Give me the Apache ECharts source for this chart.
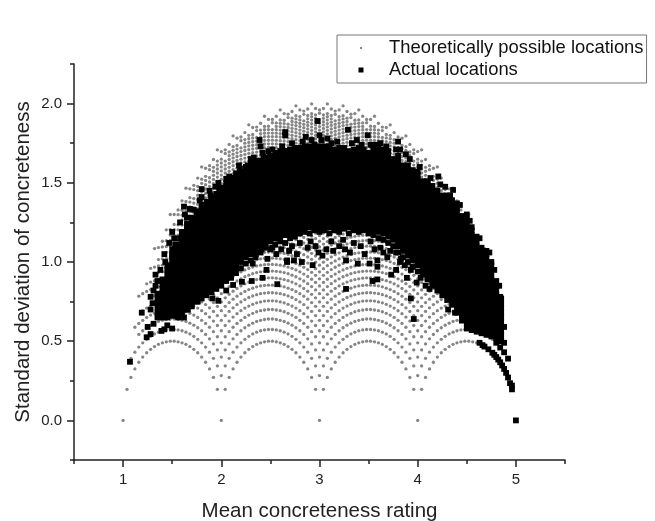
<!DOCTYPE html>
<html><head><meta charset="utf-8">
<style>html,body{margin:0;padding:0;background:#fff}#c{width:655px;height:521px}</style>
<script src="https://cdn.jsdelivr.net/npm/echarts@6/dist/echarts.min.js"></script>
</head><body><div id="c"></div>
<script>
const seriesNames = ['Theoretically possible locations', 'Actual locations'];
const xTickLabels = [1, 2, 3, 4, 5];
const xMinorTicks = [0.5, 1.5, 2.5, 3.5, 4.5, 5.5];
const yTickLabels = [0, 0.5, 1, 1.5, 2];
const yMinorTicks = [-0.25, 0.25, 0.75, 1.25, 1.75, 2.25];

// SD levels read along each family of arcs
const sdRows0 = [0,.283,.4,.49,.566,.632,.693,.748,.8,.849,.894,.938,.98,1.02,1.058,1.095,1.131,1.166,1.2,1.233,1.265,1.296,1.327,1.356,1.386,1.414,1.442,1.47,1.497,1.523,1.549,1.575,1.6,1.625,1.649,1.673,1.697,1.72,1.744,1.766,1.789,1.811,1.833,1.855,1.876,1.897,1.918,1.939,1.96];
const sdRows1 = [.196,.344,.445,.528,.599,.662,.72,.774,.824,.871,.916,.958,.999,1.038,1.076,1.113,1.148,1.183,1.216,1.248,1.28,1.311,1.341,1.371,1.399,1.428,1.455,1.483,1.509,1.536,1.562,1.587,1.612,1.637,1.661,1.685,1.708,1.732,1.755,1.777,1.8,1.822,1.843,1.865,1.886,1.907,1.928,1.949,1.969];
const sdRows2 = [.271,.392,.483,.56,.627,.688,.744,.796,.845,.891,.935,.977,1.017,1.055,1.093,1.129,1.163,1.197,1.23,1.262,1.294,1.324,1.354,1.383,1.412,1.44,1.468,1.495,1.521,1.547,1.573,1.598,1.623,1.647,1.671,1.695,1.719,1.742,1.765,1.787,1.809,1.831,1.853,1.874,1.896,1.917,1.937,1.958,1.978,1.998];
const sdRows3 = [.325,.431,.515,.588,.652,.711,.765,.816,.863,.909,.952,.993,1.032,1.07,1.107,1.143,1.177,1.211,1.243,1.275,1.306,1.336,1.366,1.395,1.423,1.451,1.478,1.505,1.532,1.557,1.583,1.608,1.633,1.657,1.681,1.705,1.728,1.751,1.774,1.796,1.818,1.84,1.862,1.883,1.904,1.925,1.946,1.966];
const sdRows4 = [.367,.463,.543,.612,.674,.731,.784,.833,.88,.924,.967,1.007,1.046,1.084,1.12,1.155,1.189,1.222,1.255,1.286,1.317,1.347,1.376,1.405,1.433,1.461,1.488,1.515,1.541,1.567,1.592,1.617,1.641,1.666,1.689,1.713,1.736,1.759,1.782,1.804,1.826,1.848,1.869,1.891,1.912,1.932,1.953];
const sdRows5 = [.4,.49,.566,.632,.693,.748,.8,.849,.894,.938,.98,1.02,1.058,1.095,1.131,1.166,1.2,1.233,1.265,1.296,1.327,1.356,1.386,1.414,1.442,1.47,1.497,1.523,1.549,1.575,1.6,1.625,1.649,1.673,1.697,1.72,1.744,1.766,1.789,1.811,1.833,1.855,1.876,1.897,1.918,1.939,1.96];
const sdRows6 = [.427,.512,.585,.65,.709,.763,.814,.862,.907,.95,.991,1.031,1.069,1.106,1.141,1.176,1.209,1.242,1.274,1.305,1.335,1.365,1.394,1.422,1.45,1.477,1.504,1.53,1.556,1.582,1.607,1.632,1.656,1.68,1.704,1.727,1.75,1.773,1.795,1.817,1.839,1.861,1.882,1.903,1.924,1.945,1.965,1.986];
const sdRows7 = [.449,.531,.601,.665,.722,.776,.826,.873,.917,.96,1.001,1.04,1.078,1.114,1.15,1.184,1.217,1.25,1.281,1.312,1.342,1.372,1.401,1.429,1.457,1.484,1.51,1.537,1.563,1.588,1.613,1.638,1.662,1.686,1.709,1.733,1.755,1.778,1.8,1.823,1.844,1.866,1.887,1.908,1.929,1.95];
const sdRows8 = [.466,.546,.614,.676,.733,.786,.835,.882,.926,.968,1.009,1.048,1.085,1.121,1.157,1.191,1.224,1.256,1.287,1.318,1.348,1.378,1.406,1.434,1.462,1.489,1.516,1.542,1.568,1.593,1.618,1.642,1.667,1.69,1.714,1.737,1.76,1.783,1.805,1.827,1.849,1.87,1.891,1.912,1.933];
const sdRows9 = [.48,.557,.625,.686,.742,.794,.843,.889,.933,.975,1.015,1.054,1.091,1.127,1.162,1.196,1.229,1.261,1.292,1.323,1.353,1.382,1.411,1.439,1.466,1.493,1.52,1.546,1.572,1.597,1.622,1.646,1.67,1.694,1.718,1.741,1.764,1.786,1.808,1.83,1.852,1.874,1.895,1.916,1.937];
const sdRows10 = [.49,.566,.632,.693,.748,.8,.849,.894,.938,.98,1.02,1.058,1.095,1.131,1.166,1.2,1.233,1.265,1.296,1.327,1.356,1.386,1.414,1.442,1.47,1.497,1.523,1.549,1.575,1.6,1.625,1.649,1.673,1.697,1.72,1.744,1.766,1.789,1.811,1.833,1.855,1.876,1.897,1.918,1.939,1.96];
const sdRows11 = [.496,.571,.637,.697,.753,.804,.852,.898,.941,.983,1.023,1.061,1.098,1.134,1.169,1.203,1.235,1.267,1.299,1.329,1.359,1.388,1.416,1.444,1.472,1.499,1.525,1.551,1.577,1.602,1.627,1.651,1.675,1.699,1.722,1.745,1.768,1.791,1.813,1.835,1.856,1.878,1.899,1.92];
const sdRows12 = [.5,.574,.64,.7,.755,.806,.854,.9,.943,.985,1.024,1.063,1.1,1.136,1.17,1.204,1.237,1.269,1.3,1.33,1.36,1.389,1.418,1.446,1.473,1.5,1.526,1.552,1.578,1.603,1.628,1.652,1.676,1.7,1.723,1.746,1.769,1.792,1.814,1.836,1.857,1.879,1.9];
const sdRowSets = [sdRows0,sdRows1,sdRows2,sdRows3,sdRows4,sdRows5,sdRows6,sdRows7,sdRows8,sdRows9,sdRows10,sdRows11,sdRows12];

// One entry per possible mean: which arc family, highest row present, rows missing below it
const possibleMeans = [1,1.04,1.08,1.12,1.16,1.2,1.24,1.28,1.32,1.36,1.4,1.44,1.48,1.52,1.56,1.6,1.64,1.68,1.72,1.76,1.8,1.84,1.88,1.92,1.96,2,2.04,2.08,2.12,2.16,2.2,2.24,2.28,2.32,2.36,2.4,2.44,2.48,2.52,2.56,2.6,2.64,2.68,2.72,2.76,2.8,2.84,2.88,2.92,2.96,3,3.04,3.08,3.12,3.16,3.2,3.24,3.28,3.32,3.36,3.4,3.44,3.48,3.52,3.56,3.6,3.64,3.68,3.72,3.76,3.8,3.84,3.88,3.92,3.96,4,4.04,4.08,4.12,4.16,4.2,4.24,4.28,4.32,4.36,4.4,4.44,4.48,4.52,4.56,4.6,4.64,4.68,4.72,4.76,4.8,4.84,4.88,4.92,4.96,5];
const possibleRowSet = [0,1,2,3,4,5,6,7,8,9,10,11,12,12,11,10,9,8,7,6,5,4,3,2,1,0,1,2,3,4,5,6,7,8,9,10,11,12,12,11,10,9,8,7,6,5,4,3,2,1,0,1,2,3,4,5,6,7,8,9,10,11,12,12,11,10,9,8,7,6,5,4,3,2,1,0,1,2,3,4,5,6,7,8,9,10,11,12,12,11,10,9,8,7,6,5,4,3,2,1,0];
const possibleTopRow = [0,0,1,3,6,6,7,9,12,12,13,15,18,18,19,21,24,24,25,27,30,30,31,33,36,36,36,37,39,38,38,39,41,40,40,41,43,42,42,43,45,44,44,45,47,46,46,47,49,48,48,
  48,49,47,46,46,47,45,44,44,45,43,42,42,43,41,40,40,41,39,38,38,39,37,36,36,36,33,31,30,30,27,25,24,24,21,19,18,18,15,13,12,12,9,7,6,6,3,1,0,0];
const possibleTopGap = ["01210121012101210121","01210121012101210121","01210121012101210121","01210121012101210121","01210121012101210121","0"].join('');
const gapOffsets = {0:[1,2],1:[1],2:[2]};

// Dense body of the actual locations: SD x 100, listed per mean
const actualMeans = [1.35,1.4,1.45,1.5,1.55,1.6,1.65,1.7,1.75,1.8,1.85,1.9,1.95,2,2.05,2.1,2.15,2.2,2.25,2.3,2.35,2.4,2.45,2.5,2.55,2.6,2.65,2.7,2.75,2.8,2.85,2.9,2.95,3,3.05,3.1,3.15,3.2,3.25,3.3,3.35,3.4,3.45,3.5,3.55,3.6,3.65,3.7,3.75,3.8,3.85,3.9,3.95,4,4.05,4.1,4.15,4.2,4.25,4.3,4.35,4.4,4.45,4.5,4.55,4.6,4.65,4.7,4.75,4.8,4.85];
const actualSdCols = [
[65,68,71,74,77,80],
[65,68,71,74,77,80,83,86,89],
[65,68,71,74,77,80,83,86,89,92,95,98],
[66,69,72,75,78,81,84,87,90,93,96,99,102,105,108],
[66,69,72,75,78,81,84,87,90,93,96,99,102,105,108,111],
[67,70,73,76,79,82,85,88,91,94,97,100,103,106,109,112,115,118],
[70,73,76,79,82,85,88,91,94,97,100,103,106,109,112,115,118,121,124],
[72,75,78,81,84,87,90,93,96,99,102,105,108,111,114,117,120,123,126,128],
[75,78,81,84,87,90,93,96,99,102,105,108,111,114,117,120,123,126,129,132],
[77,80,83,86,89,92,95,98,101,104,107,110,113,116,119,122,125,128,131,134,136],
[79,82,85,88,91,94,97,100,103,106,109,112,115,118,121,124,127,130,133,136,138],
[81,84,87,90,93,96,99,102,105,108,111,114,117,120,123,126,129,132,135,138,141],
[83,86,89,92,95,98,101,104,107,110,113,116,119,122,125,128,131,134,137,140,143],
[85,88,91,94,97,100,103,106,109,112,115,118,121,124,127,130,133,136,139,142,145,147],
[88,91,94,97,100,103,106,109,112,115,118,121,124,127,130,133,136,139,142,145,148,150],
[90,93,96,99,102,105,108,111,114,117,120,123,126,129,132,135,138,141,144,147,150,153],
[93,96,99,102,105,108,111,114,117,120,123,126,129,132,135,138,141,144,147,150,153,156],
[96,100,103,106,109,112,115,118,121,124,127,130,133,136,139,142,145,148,151,154,157],
[99,103,106,109,112,115,118,121,124,127,130,133,136,139,142,145,148,151,154,157,160],
[101,105,108,111,114,117,120,123,126,129,132,135,138,141,144,147,150,153,156,159,162],
[103,107,110,113,116,119,122,125,128,131,134,137,140,143,146,149,152,155,158,161,164],
[106,110,113,116,119,122,125,128,131,134,137,140,143,146,149,152,155,158,161,164],
[109,112,115,118,121,124,127,130,133,136,139,142,145,148,151,154,157,160,163,166],
[108,113,116,119,122,125,128,131,134,137,140,143,146,149,152,155,158,161,164,167],
[111,115,118,121,124,127,130,133,136,139,142,145,148,151,154,157,160,163,166,169],
[113,116,119,122,125,128,131,134,137,140,143,146,149,152,155,158,161,164,167,170],
[112,117,120,123,126,129,132,135,138,141,144,147,150,153,156,159,162,165,168,170],
[115,118,121,124,127,130,133,136,139,142,145,148,151,154,157,160,163,166,169,171],
[116,119,122,125,128,131,134,137,140,143,146,149,152,155,158,161,164,167,170,172],
[118,121,124,127,130,133,136,139,142,145,148,151,154,157,160,163,166,169,172],
[119,122,125,128,131,134,137,140,143,146,149,152,155,158,161,164,167,170,173],
[118,122,125,128,131,134,137,140,143,146,149,152,155,158,161,164,167,170,173],
[120,123,126,129,132,135,138,141,144,147,150,153,156,159,162,165,168,171,174],
[119,122,125,128,131,134,137,140,143,146,149,152,155,158,161,164,167,170,173],
[120,123,126,129,132,135,138,141,144,147,150,153,156,159,162,165,168,171,173],
[118,122,125,128,131,134,137,140,143,146,149,152,155,158,161,164,167,170,173],
[120,123,126,129,132,135,138,141,144,147,150,153,156,159,162,165,168,171],
[119,122,125,128,131,134,137,140,143,146,149,152,155,158,161,164,167,170,172],
[121,124,127,130,133,136,139,142,145,148,151,154,157,160,163,166,169,172],
[118,122,125,128,131,134,137,140,143,146,149,152,155,158,161,164,167,170],
[120,123,126,129,132,135,138,141,144,147,150,153,156,159,162,165,168,171],
[119,122,125,128,131,134,137,140,143,146,149,152,155,158,161,164,167,170,172],
[120,123,126,129,132,135,138,141,144,147,150,153,156,159,162,165,168,171],
[118,121,124,127,130,133,136,139,142,145,148,151,154,157,160,163,166,169],
[117,120,123,126,129,132,135,138,141,144,147,150,153,156,159,162,165,168,171],
[115,119,122,125,128,131,134,137,140,143,146,149,152,155,158,161,164,167,170,172],
[114,118,121,124,127,130,133,136,139,142,145,148,151,154,157,160,163,166,169,171],
[112,116,119,122,125,128,131,134,137,140,143,146,149,152,155,158,161,164,167,170],
[110,114,117,120,123,126,129,132,135,138,141,144,147,150,153,156,159,162,165],
[106,110,113,116,119,122,125,128,131,134,137,140,143,146,149,152,155,158,161,164,167],
[103,107,110,113,116,119,122,125,128,131,134,137,140,143,146,149,152,155,158,161],
[100,104,107,110,113,116,119,122,125,128,131,134,137,140,143,146,149,152,155,158,161],
[97,101,104,107,110,113,116,119,122,125,128,131,134,137,140,143,146,149,152,155,158],
[94,98,101,104,107,110,113,116,119,122,125,128,131,134,137,140,143,146,149,152,155,157],
[92,95,98,101,104,107,110,113,116,119,122,125,128,131,134,137,140,143,146,149,151],
[89,92,95,98,101,104,107,110,113,116,119,122,125,128,131,134,137,140,143,146,149,151],
[85,88,91,94,97,100,103,106,109,112,115,118,121,124,127,130,133,136,139,142,145,148],
[82,85,88,91,94,97,100,103,106,109,112,115,118,121,124,127,130,133,136,139,142,145],
[79,82,85,88,91,94,97,100,103,106,109,112,115,118,121,124,127,130,133,136,139,142],
[76,79,82,85,88,91,94,97,100,103,106,109,112,115,118,121,124,127,130,133,136,139,142],
[73,76,79,82,85,88,91,94,97,100,103,106,109,112,115,118,121,124,127,130,133,136,139],
[68,71,74,77,80,83,86,89,92,95,98,101,104,107,110,113,116,119,122,125,128,131,134],
[63,66,69,72,75,78,81,84,87,90,93,96,99,102,105,108,111,114,117,120,123,126,129],
[58,61,64,67,70,73,76,79,82,85,88,91,94,97,100,103,106,109,112,115,118,121,124,127],
[57,60,63,66,69,72,75,78,81,84,87,90,93,96,99,102,105,108,111,114,117,120,122],
[56,59,62,65,68,71,74,77,80,83,86,89,92,95,98,101,104,107,110,113,116],
[55,58,61,64,67,70,73,76,79,82,85,88,91,94,97,100,103,106,109],
[54,57,60,63,66,69,72,75,78,81,84,87,90,93,96,99,102,105,107],
[53,56,59,62,65,68,71,74,77,80,83,86,89,92,95,98,100],
[52,55,58,61,64,67,70,73,76,79,82,85,88],
[50,53,56,59,62,65,68,71,74,77]
];

// Individually visible squares around the body
const actualSparse = [
[1.07,.37],[1.19,.68],[1.24,.525],[1.25,.59],[1.28,.545],[1.31,.61],[1.31,.82],[1.35,.88],[1.39,.565],[1.42,.575],[1.43,1],[1.45,.6],[1.5,.58],[1.5,1.04],[1.5,1.19],[1.53,1.11],[1.56,.65],[1.58,1.15],[1.6,1.19],[1.62,.65],[1.62,1.35],[1.63,1.3],[1.66,.7],[1.68,1.335],[1.76,.75],[1.8,1.46],[1.8,1.41],[1.89,1.42],[1.91,.77],[1.94,1.475],[1.97,.755],[1.97,1.5],[2.05,.82],[2.05,1.525],[2.12,.855],[2.12,1.53],[2.19,1.59],[2.21,.875],[2.24,1.06],[2.27,1.61],[2.31,.88],[2.32,.99],[2.33,1.66],[2.37,1.62],[2.39,1.77],[2.4,1.73],[2.42,.9],[2.43,1.665],[2.46,.95],[2.46,1.64],[2.47,1.02],[2.48,1.7],[2.57,.86],[2.64,1.7],[2.65,1.82],[2.65,1.8],[2.67,1],[2.67,1.01],[2.74,1.01],[2.78,1.72],[2.82,1],[2.86,1.79],[2.93,.98],[2.98,1.89],[2.99,1.06],[3,1.8],[3.07,1.08],[3.08,1.78],[3.26,1.08],[3.27,.83],[3.27,1.01],[3.29,1.835],[3.38,1.77],[3.39,.99],[3.49,1.8],[3.51,.99],[3.54,.88],[3.54,1.74],[3.59,.89],[3.59,.97],[3.59,1.01],[3.59,1.74],[3.65,1.06],[3.73,.92],[3.78,.95],[3.78,1.06],[3.8,1.76],[3.82,1],[3.82,1.71],[3.88,1.68],[3.89,.9],[3.93,.77],[3.96,.64],[3.99,.87],[4.21,1.54],[4.28,1.475],[4.31,.7],[4.36,1.455],[4.38,.68],[4.4,1.37],[4.5,1.3],
[4.63,.49],[4.66,.475],[4.68,.466],[4.72,.449],[4.76,.427],[4.78,.414],[4.8,.4],[4.8,.49],[4.82,.384],[4.84,.367],[4.84,.46],[4.84,.54],[4.84,.61],[4.84,.67],[4.84,.78],[4.86,.347],[4.88,.325],[4.88,.43],[4.88,.49],[4.88,.59],[4.9,.3],[4.92,.271],[4.92,.39],[4.94,.235],[4.96,.196],[4.96,.22],[5,0],
[1.28,.7],[1.3,.74],[1.28,.78],[1.33,.85],[1.33,.92],[1.38,.95],[1.42,1.05],[1.47,1.12],[1.52,1.15],[1.58,1.25],[1.65,1.28],[1.72,1.33],[1.78,1.39],[1.88,1.45],[1.98,1.46],[2.08,1.54],[2.18,1.61],[2.3,1.65],[2.42,1.69],[2.52,1.71],[2.62,1.73],[2.72,1.75],[2.83,1.76],[2.92,1.77],[3.02,1.77],[3.12,1.75],[3.18,1.76],[3.33,1.75],[3.43,1.74],[3.52,1.74],[3.62,1.75],[3.68,1.73],[3.78,1.71],[3.92,1.65],[4.02,1.6],[4.13,1.53],[4.23,1.49],[4.33,1.42],[4.43,1.36],[4.53,1.26],[4.63,1.15],[4.73,1.06],[4.78,.95],[4.83,.85],
[2.35,1.05],[2.41,1.08],[2.52,1.09],[2.56,1.05],[2.61,1.08],[2.69,1.07],[2.72,1.1],[2.77,1.05],[2.8,1.12],[2.88,1.09],[2.91,1.13],[2.96,1.1],[3.03,1.04],[3.12,1.13],[3.14,1.07],[3.2,1.1],[3.24,1.14],[3.31,1.06],[3.35,1.12],[3.42,1.1],[3.46,1.05],[3.52,1.13],[3.56,1.08],[3.62,1.09],[3.69,1.03],[3.72,1.07],[3.83,1.02],[3.87,.98],[3.93,.95],[4.03,.9],[4.08,.85],[4.12,.83]
];

const possibleData = [];
possibleMeans.forEach((m, c) => {
  const rows = sdRowSets[possibleRowSet[c]];
  const top = possibleTopRow[c];
  const skip = gapOffsets[possibleTopGap[c] === '0' ? 0 : possibleTopGap[c] === '2' ? 2 : 1].map(o => top - o);
  for (let j = 0; j <= top; j++) if (!skip.includes(j)) possibleData.push([m, rows[j]]);
});
const actualData = [];
actualMeans.forEach((m, c) => actualSdCols[c].forEach(s => actualData.push([m, s / 100])));
actualSparse.forEach(p => actualData.push(p));

const FONT = '"Liberation Sans", Arial, sans-serif';
const INK = '#222';
const axisText = {color: INK, fontFamily: FONT, fontSize: 15};
const nameText = {color: INK, fontFamily: FONT, fontSize: 20.5};
const baseX = {type: 'value', min: 0.5, max: 5.5, interval: 0.5, splitLine: {show: false}};
const baseY = {type: 'value', min: -0.25, max: 2.25, interval: 0.25, splitLine: {show: false}};

const chart = echarts.init(document.getElementById('c'), null, {renderer: 'canvas'});
chart.setOption({
  animation: false,
  backgroundColor: '#fff',
  grid: {left: 74, right: 90, top: 64, bottom: 61, outerBoundsMode: 'none'},
  legend: {
    orient: 'vertical', left: 337, top: 35, padding: [4, 3, 4, 21.5], itemGap: 4,
    itemWidth: 46, itemHeight: 5, borderColor: '#777', borderWidth: 1, selectedMode: false,
    textStyle: {color: '#111', fontFamily: FONT, fontSize: 18.4},
    data: [
      {name: seriesNames[0], icon: 'path://M0 0L0 0M10 10L10 10M3 3h4v4h-4z', itemStyle: {color: '#888', opacity: 1}},
      {name: seriesNames[1], icon: 'path://M0 0h10v10h-10z', itemStyle: {color: '#000', opacity: 1}}
    ]
  },
  xAxis: [
    Object.assign({}, baseX, {
      name: 'Mean concreteness rating', nameLocation: 'middle', nameGap: 41, nameMoveOverlap: false, nameTextStyle: nameText,
      axisLine: {show: true, onZero: false, lineStyle: {color: INK, width: 1.5}},
      axisTick: {show: true, customValues: xTickLabels, length: 7, lineStyle: {color: INK, width: 1.5}},
      axisLabel: {show: true, customValues: xTickLabels, margin: 12, ...axisText, formatter: v => String(v)}
    }),
    Object.assign({}, baseX, {
      position: 'bottom', axisLine: {show: false, onZero: false},
      axisTick: {show: true, customValues: xMinorTicks, length: 4, lineStyle: {color: INK, width: 1.5}},
      axisLabel: {show: false}
    })
  ],
  yAxis: [
    Object.assign({}, baseY, {
      name: 'Standard deviation of concreteness', nameLocation: 'middle', nameGap: 40, nameMoveOverlap: false, nameTextStyle: nameText,
      axisLine: {show: true, onZero: false, lineStyle: {color: INK, width: 1.5}},
      axisTick: {show: true, customValues: yTickLabels, length: 7, lineStyle: {color: INK, width: 1.5}},
      axisLabel: {show: true, customValues: yTickLabels, margin: 12, ...axisText, formatter: v => v.toFixed(1)}
    }),
    Object.assign({}, baseY, {
      position: 'left', axisLine: {show: false, onZero: false},
      axisTick: {show: true, customValues: yMinorTicks, length: 4, lineStyle: {color: INK, width: 1.5}},
      axisLabel: {show: false}
    })
  ],
  series: [
    {name: seriesNames[0], type: 'scatter', symbol: 'circle', symbolSize: 3.3, silent: true,
     itemStyle: {color: '#858585', opacity: 1}, data: possibleData},
    {name: seriesNames[1], type: 'scatter', symbol: 'rect', symbolSize: 5.8, silent: true,
     itemStyle: {color: '#000', opacity: 1}, data: actualData}
  ]
});
</script></body></html>
